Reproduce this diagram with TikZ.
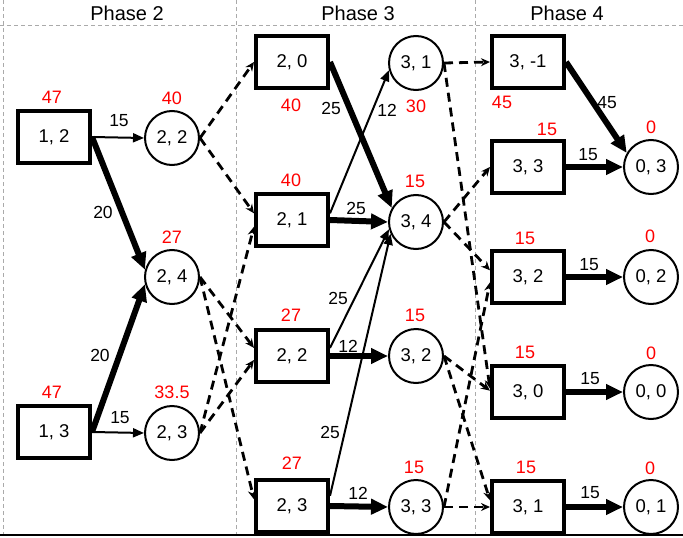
\documentclass[tikz,border=0pt]{standalone}
\usepackage{fontspec}
\setmainfont{Liberation Sans}
\usetikzlibrary{arrows.meta}
\newcommand{\nfont}{\fontsize{18.5}{21}\selectfont}
\newcommand{\vfont}{\fontsize{18}{21}\selectfont}
\newcommand{\lfont}{\fontsize{17.5}{20}\selectfont}
\newcommand{\hfont}{\fontsize{20}{24}\selectfont}
\definecolor{gridgray}{RGB}{170,170,170}
\definecolor{baseline}{RGB}{204,20,60}
\begin{document}
\begin{tikzpicture}[x=1pt,y=-1pt,
  box/.style={draw, line width=4pt, minimum width=72pt, minimum height=52pt, inner sep=0pt, font=\nfont},
  circ/.style={draw, circle, line width=2pt, minimum size=54pt, inner sep=0pt, font=\nfont},
  val/.style={text=red, font=\vfont, inner sep=0pt},
  lab/.style={font=\lfont, inner sep=0pt},
  head/.style={font=\hfont, inner sep=0pt},
  thinarr/.style={-{Triangle[length=11pt,width=9pt]}, line width=2pt},
  thickarr/.style={-{Triangle[length=17pt,width=15pt]}, line width=6pt},
  dsh/.style={-{Stealth[length=9pt,width=8pt]}, line width=2.8pt, dash pattern=on 9pt off 6pt},
  gridline/.style={gridgray, line width=0.9pt, dash pattern=on 4pt off 3pt}
]
\useasboundingbox (0,0) rectangle (683,538);
% grid
\draw[gridline] (0,25) -- (683,25);
\draw[gridline] (3,0) -- (3,535);
\draw[gridline] (236,0) -- (236,535);
\draw[gridline] (475,0) -- (475,535);
\draw[baseline, line width=1.3pt] (0,535) -- (683,535);
% headers
\node[head] (h2) at (127,13) {Phase 2};
\node[head] (h3) at (358,13) {Phase 3};
\node[head] (h4) at (567,13) {Phase 4};
% phase 2 nodes
\node[box] (b12) at (54,137) {1, 2};
\node[box] (b13) at (54,432) {1, 3};
\node[circ] (c22) at (172,138) {2, 2};
\node[circ] (c24) at (172,277) {2, 4};
\node[circ] (c23) at (172,433) {2, 3};
% phase 3 nodes
\node[box] (b20) at (292,62) {2, 0};
\node[box] (b21) at (292,220) {2, 1};
\node[box] (b22) at (292,356) {2, 2};
\node[box] (b23) at (292,506) {2, 3};
\node[circ] (c31) at (416,63) {3, 1};
\node[circ] (c34) at (416,222) {3, 4};
\node[circ] (c32) at (416,356) {3, 2};
\node[circ] (c33) at (416,507) {3, 3};
% phase 4 nodes
\node[box] (b3m) at (528,62) {3, -1};
\node[box] (b33) at (528,167) {3, 3};
\node[box] (b32) at (528,277) {3, 2};
\node[box] (b30) at (528,392) {3, 0};
\node[box] (b31) at (528,507) {3, 1};
\node[circ] (c03) at (651,167) {0, 3};
\node[circ] (c02) at (651,277) {0, 2};
\node[circ] (c00) at (651,392) {0, 0};
\node[circ] (c01) at (651,507) {0, 1};
% values
\node[val] (v12) at (52,97) {47};
\node[val] (v22) at (172,98) {40};
\node[val] (v24) at (172,237) {27};
\node[val] (v13) at (52,392) {47};
\node[val] (v23) at (172,392) {33.5};
\node[val] (v20) at (291,105) {40};
\node[val] (v31) at (416,106) {30};
\node[val] (v21) at (291,180) {40};
\node[val] (v34) at (415,181) {15};
\node[val] (v22b) at (291,315) {27};
\node[val] (v32) at (415,315) {15};
\node[val] (v23b) at (292,463) {27};
\node[val] (v33) at (414,467) {15};
\node[val] (v3m) at (502,102) {45};
\node[val] (v33b) at (547,129) {15};
\node[val] (v03) at (651,127) {0};
\node[val] (v32b) at (525,238) {15};
\node[val] (v02) at (650,236) {0};
\node[val] (v30) at (525,352) {15};
\node[val] (v00) at (651,353) {0};
\node[val] (v31b) at (526,467) {15};
\node[val] (v01) at (650,468) {0};
% edge labels
\node[lab] (l1) at (119,121) {15};
\node[lab] (l2) at (103,212) {20};
\node[lab] (l3) at (100,355) {20};
\node[lab] (l4) at (120,418) {15};
\node[lab] (l5) at (331,108) {25};
\node[lab] (l6) at (387,110) {12};
\node[lab] (l7) at (356,208) {25};
\node[lab] (l8) at (338,298) {25};
\node[lab] (l9) at (348,346) {12};
\node[lab] (l10) at (330,432) {25};
\node[lab] (l11) at (358,493) {12};
\node[lab] (l12) at (607,103) {45};
\node[lab] (l13) at (588,155) {15};
\node[lab] (l14) at (589,265) {15};
\node[lab] (l15) at (590,379) {15};
\node[lab] (l16) at (590,493) {15};
% phase 2 edges
\draw[thinarr] (b12.east) -- (c22.west);
\draw[thickarr] (b12.east) -- (c24.165);
\draw[thickarr] (b13.east) -- (c24.195);
\draw[thinarr] (b13.east) -- (c23.west);
% phase 2 -> 3 dashed
\draw[dsh] (c22.east) -- (b20.west);
\draw[dsh] (c22.east) -- (b21.170);
\draw[dsh] (c24.east) -- (b22.168);
\draw[dsh] (c24.east) -- (b23.170);
\draw[dsh] (c23.east) -- (b21.190);
\draw[dsh] (c23.east) -- (b22.186);
% phase 3 solid
\draw[thinarr] (b21.10) -- (c31.195);
\draw[thinarr] (b22.12) -- (c34.195);
\draw[thinarr] (b23.15) -- (c34.205);
\draw[thickarr] (b20.east) -- (c34.150);
\draw[thickarr] (b21.east) -- (c34.west);
\draw[thickarr] (b22.east) -- (c32.west);
\draw[thickarr] (b23.east) -- (c33.west);
% phase 3 -> 4 dashed
\draw[dsh] (c31.east) -- (b3m.west);
\draw[dsh] (c31.east) -- (b30.175);
\draw[dsh] (c34.east) -- (b33.west);
\draw[dsh] (c34.east) -- (b32.170);
\draw[dsh] (c32.east) -- (b30.178);
\draw[dsh] (c32.east) -- (b31.170);
\draw[dsh] (c33.east) -- (b31.west);
\draw[dsh] (c33.east) -- (b32.188);
% phase 4 edges
\draw[thickarr] (b3m.east) -- (c03.150);
\draw[thickarr] (b33.east) -- (c03.west);
\draw[thickarr] (b32.east) -- (c02.west);
\draw[thickarr] (b30.east) -- (c00.west);
\draw[thickarr] (b31.east) -- (c01.west);
\end{tikzpicture}
\end{document}
